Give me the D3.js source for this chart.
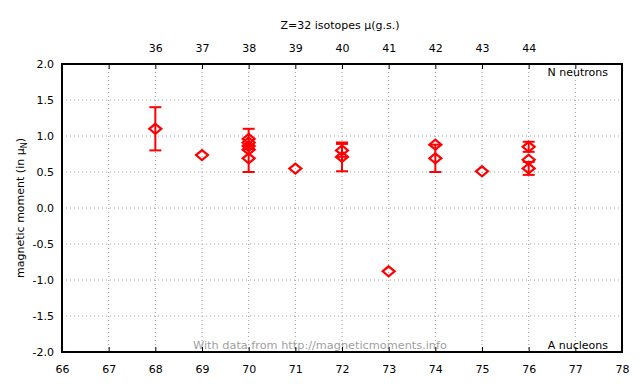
<!DOCTYPE html>
<html>
<head>
<meta charset="utf-8">
<script src="https://cdn.jsdelivr.net/npm/d3@7"></script>
<style>
  body { margin: 0; background: #fff; }
  text { font-family: "DejaVu Sans", Verdana, sans-serif; font-size: 11px; fill: #000; }
</style>
</head>
<body>
<div id="chart"></div>
<script>
// Z=32 (germanium) ground state magnetic moments
var massNumbers = [68, 69, 70, 70, 70, 70, 70, 71, 72, 72, 73, 74, 74, 75, 76, 76, 76];
var moments     = [1.10, 0.735, 0.96, 0.91, 0.86, 0.81, 0.69, 0.547, 0.80, 0.71, -0.879, 0.88, 0.69, 0.51, 0.85, 0.67, 0.55];
var errors      = [0.30, 0.01, 0.14, 0.02, 0.02, 0.02, 0.19, 0.005, 0.09, 0.20, 0.002, 0.02, 0.19, 0.005, 0.07, 0.03, 0.09];
var protons = 32;
var xTicks = d3.range(66, 79);
var yTicks = [-2.0, -1.5, -1.0, -0.5, 0.0, 0.5, 1.0, 1.5, 2.0];
var topTicks = d3.range(36, 45);

var width = 640, height = 384;
var margin = {top: 64, right: 18, bottom: 32, left: 62};
var chartWidth = width - margin.left - margin.right;
var chartHeight = height - margin.top - margin.bottom;

var data = massNumbers.map(function(a, i) {
    return {a: a, mu: moments[i], err: errors[i]};
});

var svg = d3.select("#chart").append("svg")
    .attr("width", width)
    .attr("height", height);

var xScale = d3.scaleLinear().domain([66, 78]).range([0, chartWidth]);
var yScale = d3.scaleLinear().domain([-2, 2]).range([chartHeight, 0]);

var g = svg.append("g")
    .attr("transform", "translate(" + margin.left + "," + margin.top + ")");

// dotted grid
g.append("g").attr("class", "grid")
    .selectAll("line.gx")
    .data(xTicks.slice(1, -1))
    .enter().append("line")
    .attr("x1", function(d){ return xScale(d); })
    .attr("x2", function(d){ return xScale(d); })
    .attr("y1", 0).attr("y2", chartHeight)
    .style("stroke", "#a0a0a0")
    .style("stroke-dasharray", "1,3");

g.append("g").attr("class", "grid")
    .selectAll("line.gy")
    .data(yTicks.slice(1, -1))
    .enter().append("line")
    .attr("y1", function(d){ return yScale(d); })
    .attr("y2", function(d){ return yScale(d); })
    .attr("x1", 0).attr("x2", chartWidth)
    .style("stroke", "#a0a0a0")
    .style("stroke-dasharray", "1,3");

// watermark sits under the frame
g.append("text")
    .attr("x", width / 2 - margin.left).attr("y", chartHeight - 3)
    .attr("text-anchor", "middle")
    .style("fill", "#a0a0a0")
    .style("font-size", "11.3px")
    .text("With data from http://magneticmoments.info");

// bottom axis (A nucleons)
var xAxis = g.append("g")
    .attr("transform", "translate(0," + chartHeight + ")")
    .call(d3.axisBottom(xScale).tickValues(xTicks).tickSizeInner(-5).tickSizeOuter(0)
        .tickFormat(d3.format("d")).tickPadding(13));
xAxis.select(".domain").remove();
xAxis.selectAll("line").style("stroke", "#000");
xAxis.selectAll("text").style("font-size", "11px").style("font-family", null);

// top axis (N neutrons)
var topAxis = g.append("g")
    .call(d3.axisTop(xScale).tickValues(xTicks).tickSizeInner(-5).tickSizeOuter(0)
        .tickFormat(function(a){
            var n = a - protons;
            return topTicks.indexOf(n) >= 0 ? n : "";
        }).tickPadding(12));
topAxis.select(".domain").remove();
topAxis.selectAll("line").style("stroke", "#000");
topAxis.selectAll("text").style("font-size", "11px").style("font-family", null);

// left axis
var yAxis = g.append("g")
    .call(d3.axisLeft(yScale).tickValues(yTicks).tickSize(0).tickPadding(8)
        .tickFormat(d3.format(".1f")));
yAxis.select(".domain").remove();
yAxis.selectAll("text").style("font-size", "11px").style("font-family", null)
    .text(function(d){ return d3.format(".1f")(d).replace("−", "-"); });

// frame
g.append("rect")
    .attr("x", 0).attr("y", 0)
    .attr("width", chartWidth).attr("height", chartHeight)
    .style("fill", "none")
    .style("stroke", "#000")
    .style("stroke-width", 2);

// error bars
var bars = g.append("g").attr("class", "errorbars")
    .selectAll("g")
    .data(data.filter(function(d){ return d.err > 0.03; }))
    .enter().append("g");

bars.append("line")
    .attr("x1", function(d){ return xScale(d.a); })
    .attr("x2", function(d){ return xScale(d.a); })
    .attr("y1", function(d){ return yScale(d.mu + d.err); })
    .attr("y2", function(d){ return yScale(d.mu - d.err); });
bars.append("line")
    .attr("x1", function(d){ return xScale(d.a) - 6; })
    .attr("x2", function(d){ return xScale(d.a) + 6; })
    .attr("y1", function(d){ return yScale(d.mu + d.err); })
    .attr("y2", function(d){ return yScale(d.mu + d.err); });
bars.append("line")
    .attr("x1", function(d){ return xScale(d.a) - 6; })
    .attr("x2", function(d){ return xScale(d.a) + 6; })
    .attr("y1", function(d){ return yScale(d.mu - d.err); })
    .attr("y2", function(d){ return yScale(d.mu - d.err); });
bars.selectAll("line")
    .style("stroke", "#ff0000")
    .style("stroke-width", 2);

// diamonds
g.append("g").selectAll("path")
    .data(data)
    .enter().append("path")
    .attr("d", "M0,-5L6,0L0,5L-6,0Z")
    .attr("transform", function(d){
        return "translate(" + xScale(d.a) + "," + yScale(d.mu) + ")";
    })
    .style("fill", "none")
    .style("stroke", "#ff0000")
    .style("stroke-width", 2.2);

// labels
svg.append("text")
    .attr("x", 340).attr("y", 29)
    .attr("text-anchor", "middle")
    .text("Z=32 isotopes μ(g.s.)");

g.append("text")
    .attr("x", chartWidth - 14).attr("y", 12)
    .attr("text-anchor", "end")
    .text("N neutrons");

g.append("text")
    .attr("x", chartWidth - 14).attr("y", chartHeight - 3)
    .attr("text-anchor", "end")
    .text("A nucleons");

var yTitle = svg.append("text")
    .attr("transform", "translate(24," + (margin.top + chartHeight / 2) + ") rotate(-90)")
    .attr("text-anchor", "middle");
yTitle.append("tspan").text("magnetic moment (in μ");
yTitle.append("tspan").attr("dy", 3).style("font-size", "8px").text("N");
yTitle.append("tspan").attr("dy", -3).text(")");
</script>
</body>
</html>
